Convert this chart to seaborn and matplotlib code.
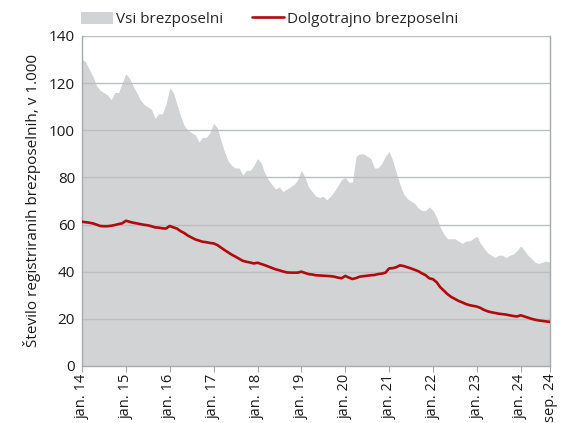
import pandas as pd
import numpy as np
import matplotlib
matplotlib.use("Agg")
import matplotlib.pyplot as plt
from matplotlib.patches import Patch
from matplotlib.lines import Line2D
import seaborn as sns

# Monthly data, jan 2014 - sep 2024 (thousands)
months = pd.date_range("2014-01-01", "2024-09-01", freq="MS")

all_unemployed = [
    130, 129, 126, 123, 119, 117, 116, 115, 113, 116, 116, 120,   # 2014
    124, 122, 119, 116, 113, 111, 110, 109, 105, 107, 107, 111,   # 2015
    118, 116, 111, 106, 102, 100, 99, 98, 95, 97, 97, 99,         # 2016
    103, 101, 96, 91, 87, 85, 84, 84, 81, 83, 83, 85,             # 2017
    88, 86, 82, 79, 77, 75, 76, 74, 75, 76, 77, 79,               # 2018
    83, 80, 76, 74, 72, 71.5, 72, 70.5, 72, 74, 76.5, 79,         # 2019
    80, 78, 78, 89, 90, 90, 89, 88, 84, 84, 86, 89,               # 2020
    91, 87, 82, 77, 73, 71, 70, 69, 67, 66, 66, 67.5,             # 2021
    66, 63, 59, 56, 54, 54, 54, 53, 52, 53, 53, 54,               # 2022
    55, 52, 50, 48, 47, 46, 47, 47, 46, 47, 47.5, 49,             # 2023
    51, 49, 47, 45.5, 44, 43.5, 44, 44.5, 44,                     # 2024
]

long_term = [
    61.2, 61.0, 60.8, 60.5, 60.0, 59.4, 59.3, 59.3, 59.5, 59.8, 60.2, 60.5,
    61.6, 61.2, 60.8, 60.5, 60.2, 59.9, 59.7, 59.3, 58.8, 58.7, 58.4, 58.3,
    59.4, 58.8, 58.3, 57.2, 56.4, 55.3, 54.5, 53.7, 53.2, 52.7, 52.5, 52.2,
    52.0, 51.3, 50.3, 49.2, 48.2, 47.2, 46.4, 45.5, 44.6, 44.2, 43.9, 43.5,
    43.8, 43.3, 42.8, 42.2, 41.6, 41.0, 40.6, 40.1, 39.7, 39.6, 39.6, 39.6,
    40.0, 39.5, 39.0, 38.8, 38.5, 38.4, 38.3, 38.2, 38.1, 37.9, 37.5, 37.2,
    38.2, 37.5, 36.9, 37.3, 37.9, 38.1, 38.3, 38.5, 38.6, 39.0, 39.2, 39.6,
    41.4, 41.5, 41.9, 42.7, 42.4, 41.9, 41.4, 40.8, 40.2, 39.3, 38.5, 37.2,
    36.8, 35.5, 33.5, 32.0, 30.5, 29.3, 28.5, 27.6, 27.0, 26.3, 25.8, 25.5,
    25.2, 24.6, 23.8, 23.2, 22.8, 22.5, 22.2, 22.0, 21.8, 21.5, 21.2, 21.0,
    21.5, 21.0, 20.5, 20.0, 19.6, 19.3, 19.1, 18.9, 18.7,
]

tick_dates = pd.to_datetime([f"{y}-01-01" for y in range(2014, 2025)] + ["2024-09-01"])
tick_labels = [f"jan. {y % 100}" for y in range(2014, 2025)] + ["sep. 24"]

df = pd.DataFrame({"date": months, "all": all_unemployed, "long": long_term})

sns.set_theme(style="white")
plt.rcParams["font.family"] = ["Open Sans", "DejaVu Sans"]

gray = "#d1d3d4"
red = "#b00a0f"
grid_col = "#bcbec0"
txt = "#1a1a1a"

fig = plt.figure(figsize=(5.64, 4.23), dpi=100)
ax = fig.add_axes([0.1454, 0.1348, 0.8298, 0.7801])

ax.fill_between(df["date"], 0, df["all"], color=gray, linewidth=0, zorder=1)
sns.lineplot(data=df, x="date", y="long", color=red, linewidth=1.9, ax=ax, zorder=4)

ax.set_ylim(0, 140)
ax.set_yticks(range(0, 141, 20))
ax.set_xlim(months[0], months[-1])
ax.set_xticks(tick_dates)
ax.set_xticklabels(tick_labels, rotation=90, fontsize=10.5, color=txt)
ax.tick_params(axis="y", labelsize=11, colors=txt, length=0, pad=5)
ax.tick_params(axis="x", length=4, width=0.8, color="#a7a9ac", pad=1.5, bottom=True)

for y in range(20, 141, 20):
    ax.axhline(y, color=grid_col, linewidth=1, zorder=2)

for side in ["left", "right", "bottom"]:
    ax.spines[side].set_color("#a7a9ac")
    ax.spines[side].set_linewidth(1)
ax.spines["top"].set_visible(False)

ax.set_xlabel("")
ax.set_ylabel("Število registriranih brezposelnih, v 1.000", fontsize=11, color=txt, labelpad=6)

handles = [Patch(facecolor=gray, edgecolor="none"), Line2D([0], [0], color=red, linewidth=1.9)]
ax.legend(handles, ["Vsi brezposelni", "Dolgotrajno brezposelni"], ncol=2, frameon=False,
          loc="lower left", bbox_to_anchor=(-0.025, 0.995), fontsize=11,
          handlelength=2.1, handleheight=0.85, handletextpad=0.2, columnspacing=1.9,
          borderaxespad=0.3)

fig.savefig("out.png", dpi=100)
